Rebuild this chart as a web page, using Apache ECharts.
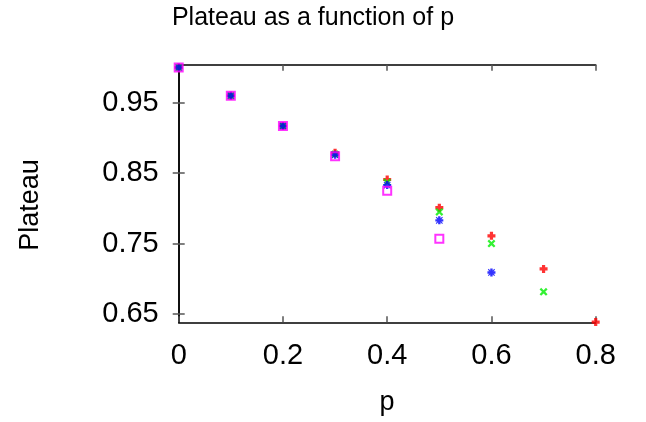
<!DOCTYPE html>
<html>
<head>
<meta charset="utf-8">
<script src="https://cdn.jsdelivr.net/npm/echarts@6/dist/echarts.min.js"></script>
<style>
html,body{margin:0;padding:0;background:#fff;}
#c{width:646px;height:422px;}
</style>
</head>
<body>
<div id="c"></div>
<script>
var pValues = [0, 0.1, 0.2, 0.3, 0.4, 0.5, 0.6, 0.7, 0.8];
var redVals = [1.0, 0.96, 0.917, 0.879, 0.841, 0.801, 0.761, 0.714, 0.6385];
var greenVals = [1.0, 0.96, 0.917, 0.877, 0.837, 0.795, 0.750, 0.6815];
var blueVals = [1.0, 0.96, 0.917, 0.876, 0.833, 0.783, 0.709];
var magentaVals = [1.0, 0.96, 0.917, 0.874, 0.825, 0.757];
var yTicks = [0.65, 0.75, 0.85, 0.95];

function pairs(vals){ return vals.map(function(v,i){ return [pValues[i], v]; }); }

var plusPath = 'path://M3,0H7V3H10V7H7V10H3V7H0V3H3Z';
var crossPath = 'path://M2,0L5,3L8,0L10,2L7,5L10,8L8,10L5,7L2,10L0,8L3,5L0,2Z';
var starPath = 'path://M3.5,0H6.5V2.5L8.5,0.5L9.5,1.5L7.5,3.5H10V6.5H7.5L9.5,8.5L8.5,9.5L6.5,7.5V10H3.5V7.5L1.5,9.5L0.5,8.5L2.5,6.5H0V3.5H2.5L0.5,1.5L1.5,0.5L3.5,2.5Z';

var font = '"Liberation Sans", Arial, sans-serif';
var chart = echarts.init(document.getElementById('c'), null, {renderer:'canvas'});
var yMin = 0.6382, yMax = 1.004;
var tickStyle = {show:true, inside:true, length:6, lineStyle:{color:'#555', width:1.5}};
chart.setOption({
  animation:false,
  backgroundColor:'#fff',
  grid:{left:178.7, right:50.3, top:64.7, bottom:99.7},
  xAxis:[{
    type:'value', min:0, max:0.8, interval:0.2, position:'bottom',
    axisLine:{lineStyle:{color:'#000', width:1.5}},
    axisTick:tickStyle,
    axisLabel:{fontFamily:font, fontSize:29, color:'#000', margin:19,
      formatter:function(v){ return String(Math.round(v*10)/10); }},
    splitLine:{show:false}
  },{
    type:'value', min:0, max:0.8, interval:0.2, position:'top',
    axisLine:{show:true, lineStyle:{color:'#000', width:1.5}},
    axisTick:tickStyle, axisLabel:{show:false}, splitLine:{show:false}
  }],
  yAxis:[{
    type:'value', min:yMin, max:yMax, position:'left',
    axisLine:{show:true, lineStyle:{color:'#000', width:1.5}},
    axisTick:Object.assign({customValues:yTicks}, tickStyle),
    axisLabel:{customValues:yTicks, fontFamily:font, fontSize:29, color:'#000', margin:20,
      formatter:function(v){ return v.toFixed(2); }},
    splitLine:{show:false}
  },{
    type:'value', min:yMin, max:yMax, position:'right',
    axisLine:{show:true, lineStyle:{color:'#000', width:1.5}},
    axisTick:Object.assign({customValues:yTicks}, tickStyle),
    axisLabel:{show:false}, splitLine:{show:false}
  }],
  graphic:[
    {type:'text', style:{text:'Plateau as a function of p', font:'25px '+font, fill:'#000', textAlign:'center', textVerticalAlign:'top'}, x:313, y:6},
    {type:'text', style:{text:'p', font:'27px '+font, fill:'#000', textAlign:'center', textVerticalAlign:'middle'}, x:387, y:403},
    {type:'text', rotation:Math.PI/2, style:{text:'Plateau', font:'27px '+font, fill:'#000', textAlign:'center', textVerticalAlign:'middle'}, x:31, y:205}
  ],
  series:[
    {type:'scatter', name:'r', data:pairs(redVals), symbol:plusPath, symbolSize:8, clip:false, itemStyle:{color:'#ff0000'}},
    {type:'scatter', name:'g', data:pairs(greenVals), symbol:crossPath, symbolSize:8, clip:false, itemStyle:{color:'#00ee00'}},
    {type:'scatter', name:'b', data:pairs(blueVals), symbol:starPath, symbolSize:8, clip:false, itemStyle:{color:'#0000ff'}},
    {type:'scatter', name:'m', data:pairs(magentaVals), symbol:'rect', symbolSize:8, clip:false,
      itemStyle:{color:'rgba(0,0,0,0)', borderColor:'#ff00ff', borderWidth:2}}
  ]
});
</script>
</body>
</html>
